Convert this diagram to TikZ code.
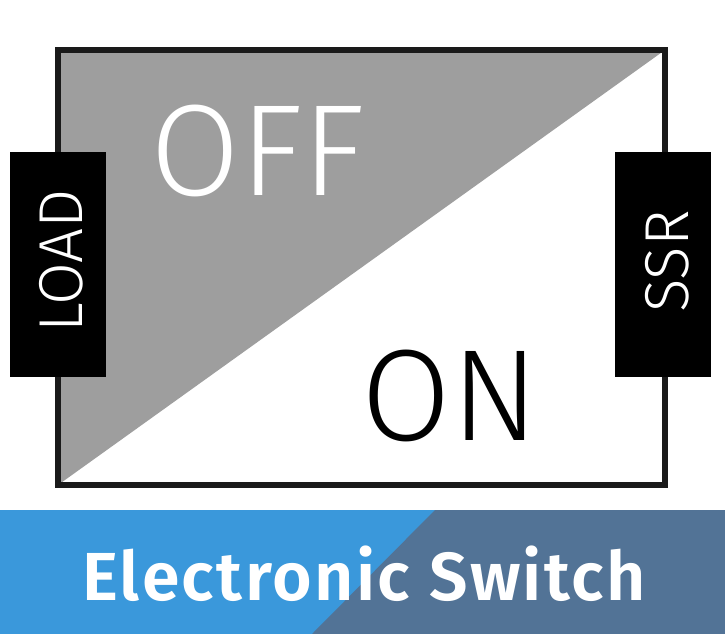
\documentclass[tikz,border=0pt]{standalone}
\usepackage{fontspec}
\setmainfont{Fira Sans}[UprightFont={* Light}, BoldFont={* SemiBold}]
\newfontfamily\bandfont{Fira Sans}[UprightFont={* SemiBold}, LetterSpace=3.5]
\usetikzlibrary{positioning}
\definecolor{FrameK}{HTML}{1A1A1A}
\definecolor{OffGray}{HTML}{9E9E9E}
\definecolor{BandBlue}{HTML}{3A98DB}
\definecolor{BandSlate}{HTML}{527396}
\tikzset{
  frame/.style={draw=FrameK, line width=5.5pt, line join=miter},
  part/.style={fill=black, minimum width=96pt, minimum height=225pt, inner sep=0pt},
  partlbl/.style={text=white, font=\fontsize{62}{62}\selectfont, rotate=90, inner sep=0pt},
  state/.style={font=\fontsize{130}{130}\selectfont, inner sep=0pt},
  banner/.style={text=white, font=\bandfont\fontsize{68}{68}\selectfont, inner sep=0pt}
}

\begin{document}
\begin{tikzpicture}[x=1pt, y=-1pt]
  \useasboundingbox (0,0) rectangle (725,634);
  % switch body
  \coordinate (tl) at (58,50);
  \coordinate (tr) at (665,50);
  \coordinate (bl) at (58,485);
  \coordinate (br) at (665,485);
  \fill[OffGray] (tl) -- (tr) -- (bl) -- cycle;
  \draw[frame] (tl) rectangle (br);

  \node[state, text=white] (off) at (258,150.5) {OFF};
  \node[state, text=black] (on) at (450,396) {ON};

  \node[part] (load) at (58,264) {};
  \node[partlbl] (loadlbl) at (61.5,260.5) {LOAD};
  \node[part] (ssr) at (663,264) {};
  \node[partlbl] (ssrlbl) at (667,261.5) {SSR};

  % title band
  \fill[BandBlue] (0,510) rectangle (725,634);
  \fill[BandSlate] (435,510) -- (725,510) -- (725,634) -- (312,634) -- cycle;
  \node[banner, anchor=base] (title) at (364,600) {Electronic Switch};
\end{tikzpicture}
\end{document}
